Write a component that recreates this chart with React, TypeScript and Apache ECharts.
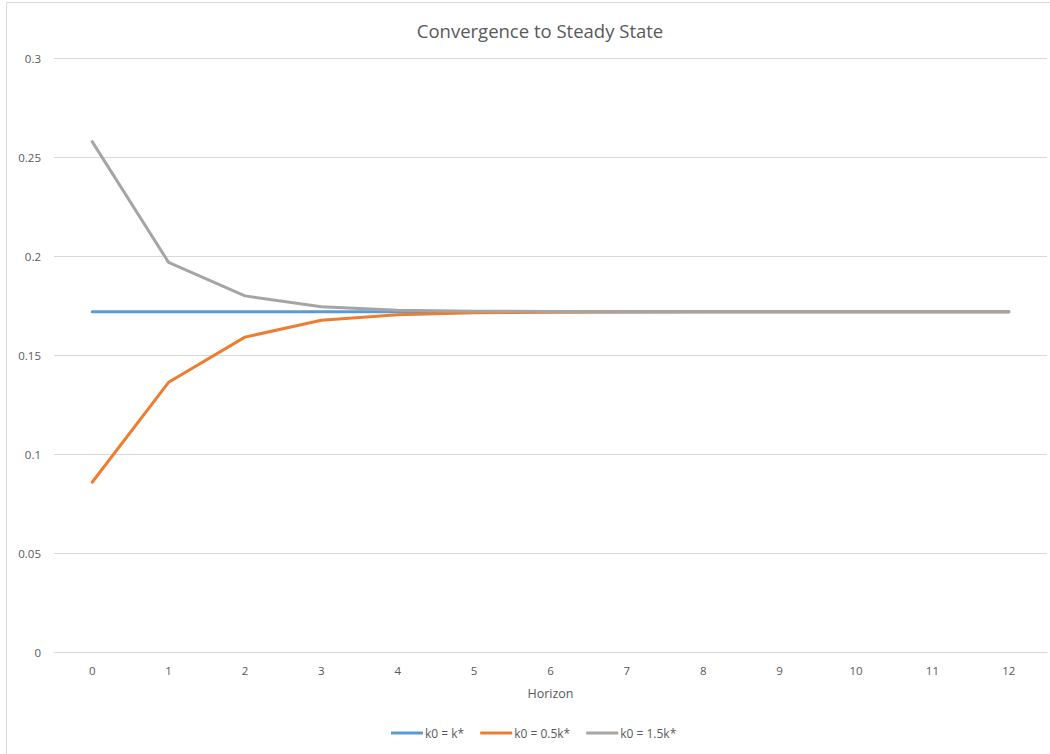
import React, { useEffect, useRef } from "react";
import * as echarts from "echarts";

const horizons = ["0", "1", "2", "3", "4", "5", "6", "7", "8", "9", "10", "11", "12"];
const steadyState = [0.172, 0.172, 0.172, 0.172, 0.172, 0.172, 0.172, 0.172, 0.172, 0.172, 0.172, 0.172, 0.172];
const halfStart = [0.086, 0.1364, 0.1592, 0.1677, 0.1705, 0.1715, 0.1718, 0.1719, 0.172, 0.172, 0.172, 0.172, 0.172];
const oneHalfStart = [0.2578, 0.1969, 0.18, 0.1745, 0.1728, 0.1723, 0.1721, 0.172, 0.172, 0.172, 0.172, 0.172, 0.172];
const seriesNames = ["k0 = k*", "k0 = 0.5k*", "k0 = 1.5k*"];
const colors = ["#5B9BD5", "#ED7D31", "#A5A5A5"];

const FONT = "'Open Sans', 'Noto Sans', sans-serif";

export default function App() {
  const ref = useRef<HTMLDivElement>(null);
  useEffect(() => {
    document.body.style.margin = "0";
    if (!ref.current) return;
    const chart = echarts.init(ref.current, null, { renderer: "svg" });
    const dataSets = [steadyState, halfStart, oneHalfStart];
    chart.setOption({
      animation: false,
      backgroundColor: "#ffffff",
      textStyle: { fontFamily: FONT },
      graphic: [
        {
          type: "rect",
          shape: { x: 6.5, y: 2.5, width: 1100, height: 800 },
          style: { fill: "none", stroke: "#D9D9D9", lineWidth: 1 },
          silent: true,
        },
      ],
      title: {
        text: "Convergence to Steady State",
        left: 535,
        top: 16,
        textAlign: "center",
        textStyle: { fontFamily: FONT, fontSize: 18.5, fontWeight: "normal", color: "#595959" },
      },
      grid: { left: 54, right: 3, top: 58, bottom: 101.3, containLabel: false },
      xAxis: {
        type: "category",
        data: horizons,
        boundaryGap: true,
        name: "Horizon",
        nameLocation: "middle",
        nameGap: 34,
        nameTextStyle: { fontFamily: FONT, fontSize: 12.5, color: "#595959" },
        axisLine: { show: true, lineStyle: { color: "#D9D9D9", width: 1 } },
        axisTick: { show: false },
        axisLabel: { margin: 12, fontFamily: FONT, fontSize: 11.5, color: "#595959" },
        splitLine: { show: false },
      },
      yAxis: {
        type: "value",
        min: 0,
        max: 0.3,
        interval: 0.05,
        axisLine: { show: false },
        axisTick: { show: false },
        axisLabel: { margin: 13, fontFamily: FONT, fontSize: 11.5, color: "#595959" },
        splitLine: { show: true, lineStyle: { color: "#D9D9D9", width: 1 } },
      },
      legend: {
        data: seriesNames,
        left: 391,
        top: 727,
        padding: 0,
        itemWidth: 32,
        itemHeight: 3,
        itemGap: 16,
        icon: "rect",
        textStyle: { fontFamily: FONT, fontSize: 12, color: "#595959", padding: [0, 0, 0, -3] },
      },
      series: seriesNames.map((name, i) => ({
        name,
        type: "line",
        data: dataSets[i],
        symbol: "none",
        showSymbol: false,
        lineStyle: { color: colors[i], width: 3, cap: "round", join: "round" },
        itemStyle: { color: colors[i] },
        z: 2 + i,
      })),
    });
    return () => chart.dispose();
  }, []);
  return <div ref={ref} style={{ width: 1050, height: 754 }} />;
}
